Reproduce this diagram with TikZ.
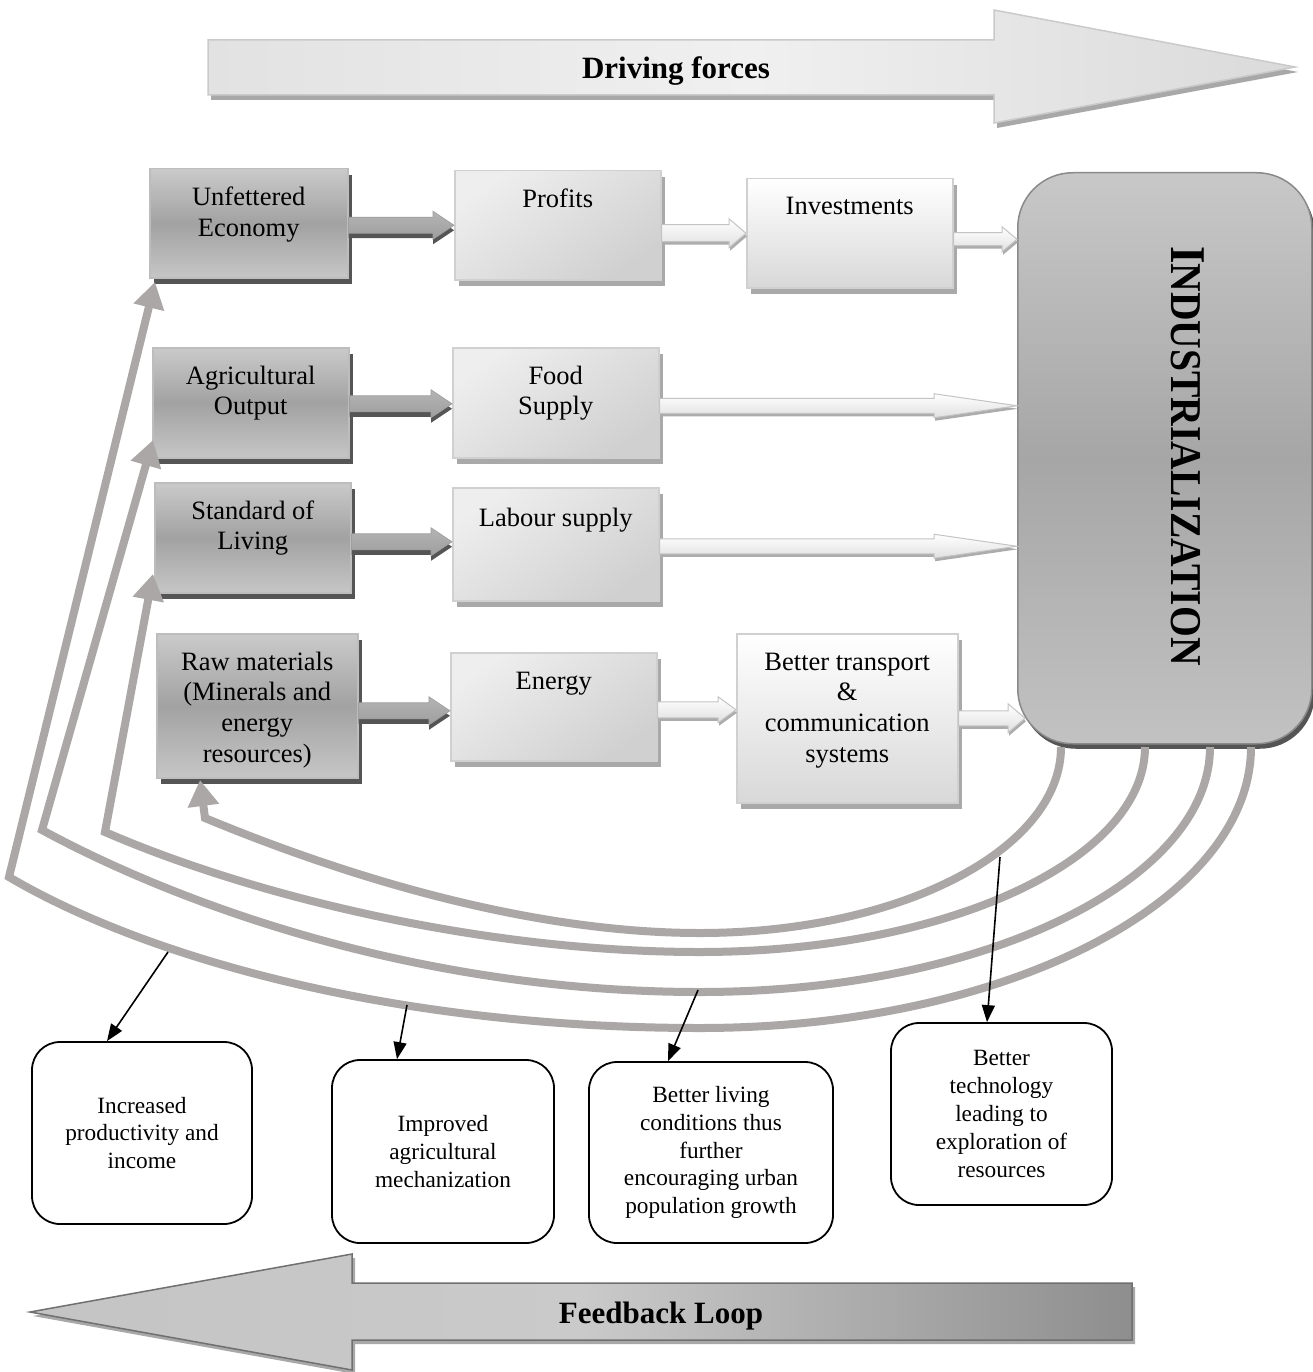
\documentclass[tikz,border=0pt]{standalone}
\usepackage{fontspec}
\usepackage{graphicx}
\setmainfont{Liberation Serif}
\usetikzlibrary{arrows.meta,calc}
\definecolor{dkA}{HTML}{CACACA}
\definecolor{dkB}{HTML}{A2A2A2}
\definecolor{dkC}{HTML}{C6C6C6}
\definecolor{dkBorder}{HTML}{BDBDBD}
\definecolor{dkShadow}{HTML}{555555}
\definecolor{ltA}{HTML}{EEEEEE}
\definecolor{ltB}{HTML}{D0D0D0}
\definecolor{ltBorder}{HTML}{D0D0D0}
\definecolor{ltShadow}{HTML}{A9A9A9}
\definecolor{wtB}{HTML}{D8D8D8}
\definecolor{curveGray}{HTML}{ABA7A6}
\definecolor{indA}{HTML}{C8C8C8}
\definecolor{indB}{HTML}{A6A6A6}
\definecolor{indC}{HTML}{C2C2C2}
\definecolor{indBorder}{HTML}{8A8A8A}
\definecolor{topA}{HTML}{E2E2E2}
\definecolor{topB}{HTML}{F0F0F0}
\definecolor{topC}{HTML}{DADADA}
\definecolor{topBorder}{HTML}{CACACA}
\definecolor{topShadow}{HTML}{A8A8A8}
\definecolor{botA}{HTML}{C4C4C4}
\definecolor{botB}{HTML}{CACACA}
\definecolor{botC}{HTML}{8E8E8E}
\definecolor{botBorder}{HTML}{707070}
\definecolor{arrDkA}{HTML}{B4B4B4}
\definecolor{arrDkB}{HTML}{9E9E9E}
\definecolor{arrLtB}{HTML}{E0E0E0}
\definecolor{arrLtBorder}{HTML}{C4C4C4}
\definecolor{arrLtShadow}{HTML}{ACACAC}
\newcommand{\boxlines}[1]{\parbox[t]{240pt}{\centering #1}}
\newcommand{\myblockarrow}[6]{%
  \path[#1] let \p1=#2, \p2=#3 in
   (\x1,\y1+#4) -- (\x2-#6,\y1+#4) -- (\x2-#6,\y1+#5) -- (\x2,\y1)
   -- (\x2-#6,\y1-#5) -- (\x2-#6,\y1-#4) -- (\x1,\y1-#4) -- cycle;}
\begin{document}
\begin{tikzpicture}[x=1pt,y=1pt,
  darkbox/.style={draw=dkBorder, line width=1.5pt, top color=dkA, bottom color=dkC, middle color=dkB,
    anchor=north west, inner sep=0pt,
    preaction={fill=dkShadow, transform canvas={shift={(4pt,-6pt)}}}},
  lightbox/.style={draw=ltBorder, line width=1.5pt, top color=ltA, bottom color=ltB, shading angle=35,
    anchor=north west, inner sep=0pt,
    preaction={fill=ltShadow, transform canvas={shift={(4pt,-6pt)}}}},
  whitebox/.style={draw=ltBorder, line width=1.5pt, top color=white, bottom color=wtB,
    anchor=north west, inner sep=0pt,
    preaction={fill=ltShadow, transform canvas={shift={(4pt,-6pt)}}}},
  indbox/.style={draw=indBorder, line width=1.5pt, rounded corners=55pt, top color=indA, bottom color=indC, middle color=indB,
    anchor=north west, inner sep=0pt,
    preaction={fill=dkShadow, transform canvas={shift={(3pt,-5pt)}}}},
  boxtxt/.style={anchor=base, inner sep=0pt, font=\fontsize{26.5}{30.8}\selectfont},
  bigtxt/.style={anchor=base, inner sep=0pt, font=\fontsize{31}{36}\selectfont\bfseries},
  botbox/.style={draw=black, line width=1.8pt, rounded corners=28pt, align=center, inner sep=0pt,
    font=\fontsize{23.3}{27.8}\selectfont},
  darr/.style={draw=arrDkB, line width=0.6pt, top color=arrDkA, bottom color=arrDkB,
    preaction={fill=dkShadow, transform canvas={shift={(0pt,-5pt)}}}},
  larr/.style={draw=arrLtBorder, line width=1pt, top color=white, bottom color=arrLtB,
    preaction={fill=arrLtShadow, transform canvas={shift={(1pt,-3pt)}}}},
  fb/.style={draw=curveGray, line width=8pt, -{Triangle[width=30pt,length=26pt]}},
  ptr/.style={draw=black, line width=1.6pt, -{Triangle[width=13pt,length=17pt]}}]
\useasboundingbox (0,0) rectangle (1312,-1372);
\fill[white] (0,0) rectangle (1312,-1372);

% ---- Driving forces arrow
\path[draw=topBorder, line width=1.5pt, left color=topA, right color=topC, middle color=topB,
  preaction={fill=topShadow, transform canvas={shift={(3pt,-5pt)}}}]
  (208,-40) -- (994,-40) -- (994,-10) -- (1295,-67) -- (994,-123) -- (994,-95) -- (208,-95) -- cycle;
\node[bigtxt] (df) at (676,-79) {Driving forces};

% ---- Feedback loop arrow
\path[draw=botBorder, line width=1.5pt, left color=botA, right color=botC, middle color=botB,
  preaction={fill=topShadow, transform canvas={shift={(3pt,-4pt)}}}]
  (1132,-1283) -- (352,-1283) -- (352,-1254) -- (30,-1312) -- (352,-1370) -- (352,-1340) -- (1132,-1340) -- cycle;
\node[bigtxt] (fl) at (661,-1323) {Feedback Loop};

% ---- boxes
\node[darkbox, minimum width=198pt, minimum height=109pt] (ue) at (149,-168) {};
\node[lightbox, minimum width=206pt, minimum height=109pt] (pr) at (454,-170) {};
\node[whitebox, minimum width=206pt, minimum height=109pt] (inv) at (746,-178) {};
\node[darkbox, minimum width=196pt, minimum height=110pt] (ag) at (152,-347) {};
\node[lightbox, minimum width=206pt, minimum height=110pt] (fs) at (452,-347) {};
\node[darkbox, minimum width=196pt, minimum height=110pt] (sl) at (154,-482) {};
\node[lightbox, minimum width=206pt, minimum height=113pt] (ls) at (452,-487) {};
\node[darkbox, minimum width=201pt, minimum height=144pt] (rm) at (156,-633) {};
\node[lightbox, minimum width=206pt, minimum height=108pt] (en) at (450,-652) {};
\node[whitebox, minimum width=221pt, minimum height=169pt] (bt) at (736,-633) {};
\node[indbox, minimum width=294pt, minimum height=571pt] (ind) at (1017,-172) {};

% ---- box texts
\node[boxtxt] (ue-t) at ([yshift=-38pt]ue.north) {\boxlines{Unfettered\\Economy}};
\node[boxtxt] (pr-t) at ([yshift=-38pt]pr.north) {\boxlines{Profits}};
\node[boxtxt] (inv-t) at ([yshift=-37pt]inv.north) {\boxlines{Investments}};
\node[boxtxt] (ag-t) at ([yshift=-37pt]ag.north) {\boxlines{Agricultural\\Output}};
\node[boxtxt] (fs-t) at ([yshift=-37pt]fs.north) {\boxlines{Food\\Supply}};
\node[boxtxt] (sl-t) at ([yshift=-37pt]sl.north) {\boxlines{Standard of\\Living}};
\node[boxtxt] (ls-t) at ([yshift=-39pt]ls.north) {\boxlines{Labour supply}};
\node[boxtxt] (rm-t) at ([yshift=-37pt]rm.north) {\boxlines{Raw materials\\(Minerals and\\energy\\resources)}};
\node[boxtxt] (en-t) at ([yshift=-37pt]en.north) {\boxlines{Energy}};
\node[boxtxt] (bt-t) at ([yshift=-37pt]bt.north) {\boxlines{Better transport\\\&\\communication\\systems}};
\node[rotate=-90, inner sep=0pt] (ind-t) at (1188,-456)
  {\scalebox{0.9}[1]{{\fontsize{50}{50}\selectfont\bfseries I}{\fontsize{44}{44}\selectfont\bfseries NDUSTRIALIZATION}}};

% ---- block arrows
\coordinate (a1) at ([yshift=-2pt]ue.east);
\coordinate (a2) at ([yshift=-1pt]ag.east);
\coordinate (a3) at ([yshift=-4pt]sl.east);
\coordinate (a4) at ([yshift=-5pt]rm.east);
\myblockarrow{darr}{(a1)}{(pr.west |- a1)}{8pt}{14pt}{21pt}
\myblockarrow{darr}{(a2)}{(fs.west |- a2)}{8pt}{14pt}{21pt}
\myblockarrow{darr}{(a3)}{(ls.west |- a3)}{8pt}{14pt}{21pt}
\myblockarrow{darr}{(a4)}{(en.west |- a4)}{8pt}{14pt}{21pt}
\coordinate (b1) at ([yshift=-8pt]pr.east);
\coordinate (b2) at ([yshift=-6pt]inv.east);
\coordinate (b3) at ([yshift=-3pt]fs.east);
\coordinate (b4) at ([yshift=-2pt]ls.east);
\coordinate (b5) at ([yshift=-3pt]en.east);
\coordinate (b6) at (bt.east);
\coordinate (b6e) at ($(ind.west |- b6)+(8,0)$);
\myblockarrow{larr}{(b1)}{(inv.west |- b1)}{8.5pt}{14.5pt}{17pt}
\myblockarrow{larr}{(b2)}{(ind.west |- b2)}{6.5pt}{12.5pt}{15pt}
\myblockarrow{larr}{(b3)}{(ind.west |- b3)}{7.5pt}{12pt}{83pt}
\myblockarrow{larr}{(b4)}{(ind.west |- b4)}{7.5pt}{12pt}{83pt}
\myblockarrow{larr}{(b5)}{(bt.west |- b5)}{8pt}{13pt}{18pt}
\myblockarrow{larr}{(b6)}{(b6e)}{7.5pt}{14.5pt}{17pt}

% ---- feedback curves
\coordinate (c1s) at (1251,-747); \coordinate (e1) at (9,-877);   \coordinate (t1) at (155,-282);
\coordinate (c2s) at (1210,-747); \coordinate (e2) at (42,-830);  \coordinate (t2) at (153,-440);
\coordinate (c3s) at (1145,-747); \coordinate (e3) at (105,-832); \coordinate (t3) at (153,-574);
\coordinate (c4s) at (1061,-747); \coordinate (e4) at (205,-818); \coordinate (t4) at (200,-780);
\draw[fb] (c1s) .. controls (1251,-902) and (1004,-1028) .. (700,-1028)
  .. controls (400,-1028) and (150,-960) .. (e1) -- (t1);
\draw[fb] (c2s) .. controls (1210,-882) and (981,-992) .. (700,-992)
  .. controls (420,-992) and (180,-905) .. (e2) -- (t2);
\draw[fb] (c3s) .. controls (1145,-860) and (946,-952) .. (700,-952)
  .. controls (480,-952) and (250,-895) .. (e3) -- (t3);
\draw[fb] (c4s) .. controls (1061,-850) and (899,-933) .. (700,-933)
  .. controls (520,-933) and (330,-870) .. (e4) -- (t4);

% ---- bottom boxes
\node[botbox, minimum width=220pt, minimum height=182pt] (inc) at (142,-1133) {Increased\\productivity and\\income};
\node[botbox, minimum width=222pt, minimum height=183pt] (imp) at (443,-1151.5) {Improved\\agricultural\\mechanization};
\node[botbox, minimum width=244pt, minimum height=181pt] (liv) at (711,-1152.5) {Better living\\conditions thus\\further\\encouraging urban\\population growth};
\node[botbox, minimum width=221pt, minimum height=182pt] (tech) at (1001.5,-1114) {Better\\technology\\leading to\\exploration of\\resources};

% ---- pointers
\coordinate (p1) at (168,-952);
\coordinate (p2) at (407,-1005);
\coordinate (p3) at (698,-990);
\coordinate (p4) at (1000,-857);
\draw[ptr] (p1) -- ([xshift=-35pt]inc.north);
\draw[ptr] (p2) -- ([xshift=-46pt]imp.north);
\draw[ptr] (p3) -- ([xshift=-43pt]liv.north);
\draw[ptr] (p4) -- ([xshift=-14.5pt]tech.north);
\end{tikzpicture}
\end{document}
